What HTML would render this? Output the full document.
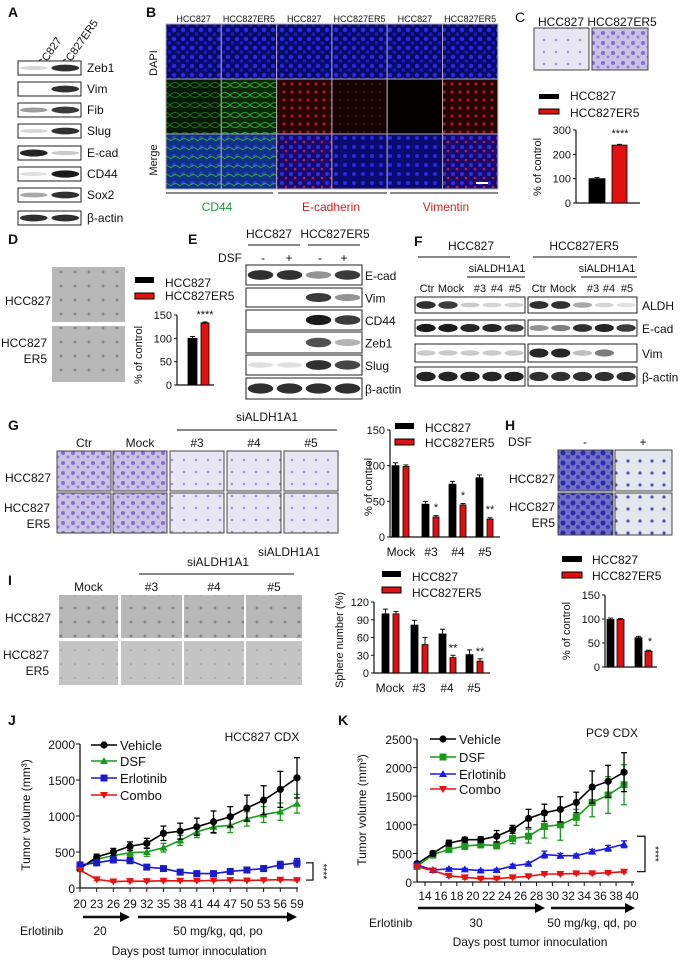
<!DOCTYPE html>
<html><head><meta charset="utf-8">
<style>
html,body{margin:0;padding:0;background:#fff;}
svg{display:block;font-family:"Liberation Sans",sans-serif;}
text{font-family:"Liberation Sans",sans-serif;}
</style></head>
<body>
<svg id="fig" width="681" height="961" viewBox="0 0 681 961" xmlns="http://www.w3.org/2000/svg">
<defs>
<pattern id="pDapi" width="9" height="9" patternUnits="userSpaceOnUse"><rect width="9" height="9" fill="#0a0a6a"/><circle cx="3" cy="3" r="2.2" fill="#2a2ae0"/><circle cx="7.5" cy="7" r="1.8" fill="#1c1cc0"/></pattern>
<pattern id="pGreen" width="10" height="10" patternUnits="userSpaceOnUse"><rect width="10" height="10" fill="#0a2a0a"/><path d="M0 5 Q5 0 10 5 Q5 10 0 5" fill="none" stroke="#2fa02f" stroke-width="1"/></pattern>
<pattern id="pGreenDim" width="10" height="10" patternUnits="userSpaceOnUse"><rect width="10" height="10" fill="#061a06"/><path d="M0 5 Q5 0 10 5 Q5 10 0 5" fill="none" stroke="#1d6a1d" stroke-width="1"/></pattern>
<pattern id="pRed" width="8" height="8" patternUnits="userSpaceOnUse"><rect width="8" height="8" fill="#250505"/><circle cx="4" cy="4" r="1.6" fill="#b01818"/></pattern>
<pattern id="pRedDim" width="8" height="8" patternUnits="userSpaceOnUse"><rect width="8" height="8" fill="#140303"/><circle cx="4" cy="4" r="1.4" fill="#4a0a0a"/></pattern>
<pattern id="pMergeG" width="9" height="9" patternUnits="userSpaceOnUse"><rect width="9" height="9" fill="#10308a"/><circle cx="3" cy="3" r="2" fill="#2a40d0"/><path d="M0 6 Q4 1 9 6" fill="none" stroke="#30a040" stroke-width="1"/></pattern>
<pattern id="pMergeR" width="9" height="9" patternUnits="userSpaceOnUse"><rect width="9" height="9" fill="#1a0a70"/><circle cx="3" cy="3" r="2" fill="#3030d8"/><circle cx="7" cy="7" r="1.3" fill="#b02050"/></pattern>
<pattern id="pMergeB" width="9" height="9" patternUnits="userSpaceOnUse"><rect width="9" height="9" fill="#0a0a70"/><circle cx="3" cy="3" r="2" fill="#2a2ae0"/></pattern>
<pattern id="pViolet" width="10" height="10" patternUnits="userSpaceOnUse"><rect width="10" height="10" fill="#c8c2e6"/><circle cx="3" cy="3" r="2" fill="#8a6ccc"/><circle cx="8" cy="7" r="1.5" fill="#9a80d4"/></pattern>
<pattern id="pVioletL" width="12" height="12" patternUnits="userSpaceOnUse"><rect width="12" height="12" fill="#e9e6f4"/><circle cx="4" cy="4" r="1.3" fill="#a494d8"/></pattern>
<pattern id="pBlue" width="10" height="10" patternUnits="userSpaceOnUse"><rect width="10" height="10" fill="#7070c8"/><circle cx="3" cy="3" r="2.5" fill="#2a2aa8"/><circle cx="8" cy="7" r="2" fill="#3a3ab8"/></pattern>
<pattern id="pBlueL" width="12" height="12" patternUnits="userSpaceOnUse"><rect width="12" height="12" fill="#e4e6ee"/><circle cx="4" cy="5" r="1.6" fill="#5050b0"/></pattern>
<pattern id="pGray" width="14" height="14" patternUnits="userSpaceOnUse"><rect width="14" height="14" fill="#b8b8b8"/><circle cx="5" cy="6" r="1.5" fill="#888"/></pattern>
<pattern id="pGrayL" width="14" height="14" patternUnits="userSpaceOnUse"><rect width="14" height="14" fill="#c4c4c4"/><circle cx="5" cy="6" r="0.8" fill="#999"/></pattern>
</defs>
<g id="root"></g>
</svg>
<script>
// ===== chart data =====
const cLabels = ["HCC827","HCC827ER5"];
const cValues = [100, 238];
const cTicks = [0,100,200,300];
const dValues = [100, 133];
const dTicks = [0,50,100,150];
const gCats = ["Mock","#3","#4","#5"];
const gBlack = [100, 46, 74, 83];
const gRed = [99, 28, 45, 25];
const gTicks = [0,50,100,150];
const hBlack = [99, 61];
const hRed = [99, 33];
const hTicks = [0,50,100,150];
const iCats = ["Mock","#3","#4","#5"];
const iBlack = [100, 81, 66, 31];
const iRed = [100, 48, 26, 20];
const iTicks = [0,30,60,90,120];
const jDays = [20,23,26,29,32,35,38,41,44,47,50,53,56,59];
const jVehicle = [270,430,500,580,620,760,790,850,920,990,1110,1220,1370,1530];
const jVehicleErr = [30,40,50,60,70,100,110,120,150,140,180,200,250,280];
const jDSF = [280,400,450,490,500,560,660,780,850,870,960,1020,1060,1170];
const jDSFErr = [30,40,50,50,60,60,70,80,90,100,100,110,120,130];
const jErl = [320,350,390,380,290,270,220,200,200,230,250,270,320,350];
const jErlErr = [40,40,40,40,30,30,30,30,30,30,30,40,50,60];
const jCombo = [250,120,90,95,95,100,100,100,105,110,105,110,115,110];
const jComboErr = [20,15,10,10,10,10,10,10,10,10,10,10,10,10];
const jTicks = [0,500,1000,1500,2000];
const kDays = [13,15,17,19,21,23,25,27,29,31,33,35,37,39];
const kVehicle = [320,500,680,740,740,800,920,1110,1210,1270,1390,1660,1760,1920];
const kVehicleErr = [30,40,50,40,50,100,70,160,150,220,180,280,280,340];
const kDSF = [270,480,570,630,650,640,760,800,970,1000,1130,1390,1520,1700];
const kDSFErr = [40,60,50,60,50,60,90,120,200,270,140,250,320,350];
const kErl = [300,210,230,220,200,210,280,320,480,460,460,530,590,660];
const kErlErr = [30,30,20,20,20,20,30,30,60,40,30,40,50,60];
const kCombo = [270,200,110,80,60,60,80,100,140,140,150,150,160,180];
const kComboErr = [20,20,30,30,20,20,20,20,20,20,20,20,20,20];
const kTicks = [0,500,1000,1500,2000,2500];
const kTickDays = [14,16,18,20,22,24,26,28,30,32,34,36,38,40];

const NS = "http://www.w3.org/2000/svg";
const root = document.getElementById('root');
function el(tag, attrs, parent){
  const e = document.createElementNS(NS, tag);
  for (const k in attrs) e.setAttribute(k, attrs[k]);
  (parent||root).appendChild(e);
  return e;
}
function txt(x,y,s,name,opts){
  opts = opts||{};
  const t = el('text',{x:x,y:y,'font-size':opts.size||11,fill:opts.fill||'#111','text-anchor':opts.anchor||'start','font-weight':opts.weight||'normal'});
  if (opts.rot) t.setAttribute('transform','rotate('+opts.rot+' '+x+' '+y+')');
  t.textContent = s;
  
  
  return t;
}
function box(x,y,w,h,fill,name,stroke){
  const r = el('rect',{x:x,y:y,width:w,height:h,fill:fill,stroke:stroke||'none','stroke-width':stroke?1:0});
  
  
  return r;
}
function line(x1,y1,x2,y2,name,w,col){
  const l = el('line',{x1:x1,y1:y1,x2:x2,y2:y2,stroke:col||'#111','stroke-width':w||1});
  
  
  return l;
}
function letter(x,y,s){ txt(x,y,s,'panel-label-'+s,{size:14,weight:'bold'}); }

function blot(x,y,w,h,lanes,intens,name){
  box(x,y,w,h,'#fff',name+'-frame','#222');
  const lw = w/lanes;
  for (let i=0;i<lanes;i++){
    const v = intens[i];
    if (v<=0.02) continue;
    const g = Math.round(235-220*v);
    const b = el('ellipse',{cx:x+lw*(i+0.5),cy:y+h/2,rx:lw*0.44,ry:Math.max(1.5,h*0.22*(0.6+v*0.6)),fill:'rgb('+g+','+g+','+g+')'});
    
    
  }
}

// ===== Panel A =====
letter(8,17,'A');
txt(38,75,'HCC827','a-header-hcc827',{rot:-55,size:11});
txt(62,75,'HCC827ER5','a-header-er5',{rot:-55,size:11});
const aRows = [['Zeb1',61,[0.1,0.85]],['Vim',82,[0,0.85]],['Fib',103,[0.35,0.8]],['Slug',124,[0.1,0.85]],['E-cad',146,[0.9,0.15]],['CD44',167,[0.05,0.95]],['Sox2',188,[0.3,0.85]],['β-actin',211,[0.85,0.85]]];
aRows.forEach(r=>{ blot(18,r[1],63,14,2,r[2],'a-blot-'+r[0]); txt(87,r[1]+11,r[0],'a-label-'+r[0],{size:12}); });

// ===== Panel B =====
letter(146,17,'B');
const bHeads = ['HCC827','HCC827ER5','HCC827','HCC827ER5','HCC827','HCC827ER5'];
const bFills = [['pDapi','pDapi','pDapi','pDapi','pDapi','pDapi'],['pGreenDim','pGreen','pRed','pRedDim','#050000','pRed'],['pMergeG','pMergeG','pMergeR','pMergeB','pMergeB','pMergeR']];
for (let c=0;c<6;c++){
  txt(166+55.3*(c+0.5),22,bHeads[c],'b-col-header',{size:9,anchor:'middle'});
  for (let r=0;r<3;r++){
    const f = bFills[r][c];
    box(166+55.3*c,24+55*r,55.3,55,f.startsWith('#')?f:'url(#'+f+')','b-image-cell','#aaa');
  }
}
txt(157,63,'DAPI','b-row-dapi',{rot:-90,anchor:'middle',size:11});
txt(157,160,'Merge','b-row-merge',{rot:-90,anchor:'middle',size:11});
box(476,182,12,2,'#fff','b-scale-bar');
line(166,193,273,193,'b-group-line');line(278,193,387,193,'b-group-line');line(390,193,498,193,'b-group-line');
txt(217,211,'CD44','b-label-cd44',{fill:'#1a9a3a',anchor:'middle',size:12});
txt(331,211,'E-cadherin','b-label-ecad',{fill:'#d02020',anchor:'middle',size:12});
txt(446,211,'Vimentin','b-label-vim',{fill:'#d02020',anchor:'middle',size:12});

function barChart(o){
  const sy = v => o.y0 - (v/o.ymax)*(o.y0-o.yTop);
  line(o.ax,o.yTop,o.ax,o.y0,o.name+'-y-axis',1.2);
  line(o.ax,o.y0,o.xEnd,o.y0,o.name+'-x-axis',1.2);
  o.ticks.forEach(t=>{ line(o.ax-3,sy(t),o.ax,sy(t),o.name+'-y-tick'); txt(o.ax-5,sy(t)+4,String(t),o.name+'-y-tick-label',{anchor:'end',size:11}); });
  o.groups.forEach((g,i)=>{
    g.forEach((b,j)=>{
      const v=b.v, h=o.y0-sy(v);
      const r = el('rect',{x:b.x,y:sy(v),width:b.w,height:h,fill:b.c,stroke:'#000','stroke-width':0.8});
      
      
      line(b.x+b.w/2,sy(v),b.x+b.w/2,sy(v+(b.e||3)),o.name+'-error-bar',1);
      line(b.x+b.w/2-2.5,sy(v+(b.e||3)),b.x+b.w/2+2.5,sy(v+(b.e||3)),o.name+'-error-cap',1);
    });
  });
  return sy;
}

// ===== Panel C =====
txt(515,22,'C','panel-label-C',{size:14});
txt(561,26,'HCC827','c-header-hcc827',{anchor:'middle',size:12});
txt(622,26,'HCC827ER5','c-header-er5',{anchor:'middle',size:12});
box(534,28,55,42,'url(#pVioletL)','c-image-hcc827','#444');
box(592,28,56,42,'url(#pViolet)','c-image-er5','#444');
box(539,94,20,5,'#000','c-legend-swatch-black');txt(570,100,'HCC827','c-legend-hcc827',{size:12});
box(539,109,20,5,'#e01010','c-legend-swatch-red','#000');txt(570,117,'HCC827ER5','c-legend-er5',{size:12});
{
  const sy = barChart({name:'c-chart',ax:576,y0:203,yTop:130,ymax:300,xEnd:640,ticks:cTicks,
    groups:[[{x:589,w:16,v:cValues[0],c:'#000',e:5},{x:612,w:15,v:cValues[1],c:'#e01010',e:3}]]});
  txt(620,sy(cValues[1])-8,'****','c-significance',{anchor:'middle',size:11});
  txt(541,167,'% of control','c-y-title',{rot:-90,anchor:'middle',size:11});
}

// ===== Panel D =====
letter(8,244,'D');
box(52,267,73,55,'url(#pGray)','d-image-hcc827');
box(52,326,73,56,'url(#pGray)','d-image-er5');
txt(5,305,'HCC827','d-row-hcc827',{size:12});
txt(47,347,'HCC827','d-row-er5-a',{size:12,anchor:'end'});
txt(47,363,'ER5','d-row-er5-b',{size:12,anchor:'end'});
box(135,277,19,6,'#000','d-legend-swatch-black');txt(165,287,'HCC827','d-legend-hcc827',{size:12});
box(135,293,19,6,'#e01010','d-legend-swatch-red','#000');txt(165,300,'HCC827ER5','d-legend-er5',{size:12});
{
  const sy = barChart({name:'d-chart',ax:177,y0:385,yTop:315,ymax:150,xEnd:214,ticks:dTicks,
    groups:[[{x:188,w:9,v:dValues[0],c:'#000',e:4},{x:201,w:8,v:dValues[1],c:'#e01010',e:2}]]});
  txt(205,sy(dValues[1])-5,'****','d-significance',{anchor:'middle',size:11});
  txt(142,355,'% of control','d-y-title',{rot:-90,anchor:'middle',size:11});
}

// ===== Panel E =====
letter(188,244,'E');
txt(269,238,'HCC827','e-header-hcc827',{anchor:'middle',size:12});
txt(335,238,'HCC827ER5','e-header-er5',{anchor:'middle',size:12});
line(248,245,300,245,'e-group-line');line(308,245,360,245,'e-group-line');
txt(230,262,'DSF','e-dsf-label',{anchor:'middle',size:12});
[['-',263],['+',289],['-',320],['+',344]].forEach(p=>txt(p[1],262,p[0],'e-dsf-sign',{anchor:'middle',size:12}));
const eRows=[['E-cad',265,20,[0.85,0.85,0.4,0.8]],['Vim',288,19,[0,0,0.8,0.4]],['CD44',310,20,[0,0,0.95,0.8]],['Zeb1',332,21,[0,0,0.7,0.25]],['Slug',355,20,[0.05,0.05,0.85,0.75]],['β-actin',378,21,[0.85,0.85,0.85,0.85]]];
eRows.forEach(r=>{ blot(246,r[1],116,r[2],4,r[3],'e-blot-'+r[0]); txt(365,r[1]+r[2]/2+5,r[0],'e-label-'+r[0],{size:12}); });

// ===== Panel F =====
letter(414,246,'F');
txt(471,250,'HCC827','f-header-hcc827',{anchor:'middle',size:12});
txt(584,250,'HCC827ER5','f-header-er5',{anchor:'middle',size:12});
line(418,257,510,257,'f-group-line');line(533,257,637,257,'f-group-line');
txt(497,272,'siALDH1A1','f-si-left',{anchor:'middle',size:11});
txt(607,272,'siALDH1A1','f-si-right',{anchor:'middle',size:11});
line(467,277,525,277,'f-si-line');line(581,277,637,277,'f-si-line');
[['Ctr',427],['Mock',451],['#3',480],['#4',497],['#5',515],['Ctr',539],['Mock',563],['#3',593],['#4',609],['#5',627]].forEach(p=>txt(p[1],292,p[0],'f-lane-label',{anchor:'middle',size:11}));
const fRows=[['ALDH',297,16,[0.85,0.8,0.15,0.1,0.1],[0.85,0.85,0.3,0.1,0.05]],['E-cad',320,16,[0.95,0.95,0.9,0.9,0.8],[0.4,0.5,0.85,0.9,0.8]],['Vim',344,18,[0.15,0.15,0.15,0.15,0.15],[0.9,0.9,0.2,0.5,0]],['β-actin',367,19,[0.9,0.9,0.9,0.9,0.9],[0.85,0.85,0.85,0.85,0.85]]];
fRows.forEach(r=>{ blot(415,r[1],110,r[2],5,r[3],'f-blot-left-'+r[0]); blot(528,r[1],109,r[2],5,r[4],'f-blot-right-'+r[0]); txt(642,r[1]+r[2]/2+5,r[0],'f-label-'+r[0],{size:12}); });

// ===== Panel G =====
letter(8,430,'G');
txt(267,421,'siALDH1A1','g-si-label',{anchor:'middle',size:12});
line(177,430,337,430,'g-si-line');
const gCols=[['Ctr',57],['Mock',113],['#3',170],['#4',227],['#5',284]];
const gFillTop=['pViolet','pViolet','pVioletL','pVioletL','pVioletL'];
const gFillBot=['pViolet','pViolet','pVioletL','pVioletL','pVioletL'];
gCols.forEach((c,i)=>{ txt(c[1]+27,447,c[0],'g-col-label',{anchor:'middle',size:12}); box(c[1],451,54,40,'url(#'+gFillTop[i]+')','g-image','#444'); box(c[1],493,54,40,'url(#'+gFillBot[i]+')','g-image','#444'); });
txt(5,482,'HCC827','g-row-hcc827',{size:12});
txt(50,512,'HCC827','g-row-er5-a',{size:12,anchor:'end'});
txt(50,528,'ER5','g-row-er5-b',{size:12,anchor:'end'});
box(395,423,19,6,'#000','g-legend-swatch-black');txt(425,432,'HCC827','g-legend-hcc827',{size:12});
box(395,439,19,6,'#e01010','g-legend-swatch-red','#000');txt(425,447,'HCC827ER5','g-legend-er5',{size:12});
{
  const bx=[392,422,449,476];
  const groups = gCats.map((c,i)=>[{x:bx[i],w:7,v:gBlack[i],c:'#000',e:4},{x:bx[i]+11,w:6,v:gRed[i],c:'#e01010',e:2}]);
  const sy = barChart({name:'g-chart',ax:390,y0:537,yTop:430,ymax:150,xEnd:500,ticks:gTicks,groups:groups});
  const sig=['','*','*','**'];
  gCats.forEach((c,i)=>{ if(sig[i]) txt(bx[i]+14,sy(gRed[i])-6,sig[i],'g-significance',{anchor:'middle',size:11}); txt(bx[i]+9,556,c,'g-x-label',{anchor:'middle',size:12}); });
  txt(320,556,'siALDH1A1','g-x-prefix',{anchor:'end',size:12});
  txt(372,487,'% of control','g-y-title',{rot:-90,anchor:'middle',size:11});
}

// ===== Panel H =====
letter(505,430,'H');
txt(520,446,'DSF','h-dsf-label',{anchor:'middle',size:12});
txt(585,446,'-','h-dsf-minus',{anchor:'middle',size:12});
txt(643,446,'+','h-dsf-plus',{anchor:'middle',size:12});
box(558,450,55,41,'url(#pBlue)','h-image','#444');box(615,450,57,41,'url(#pBlueL)','h-image','#444');
box(558,493,55,42,'url(#pBlue)','h-image','#444');box(615,493,57,42,'url(#pBlueL)','h-image','#444');
txt(555,483,'HCC827','h-row-hcc827',{size:12,anchor:'end'});
txt(555,511,'HCC827','h-row-er5-a',{size:12,anchor:'end'});
txt(555,527,'ER5','h-row-er5-b',{size:12,anchor:'end'});
box(562,556,20,6,'#000','h-legend-swatch-black');txt(592,564,'HCC827','h-legend-hcc827',{size:12});
box(562,572,20,6,'#e01010','h-legend-swatch-red','#000');txt(592,580,'HCC827ER5','h-legend-er5',{size:12});
{
  const bx=[607,635];
  const groups = hBlack.map((v,i)=>[{x:bx[i],w:7,v:hBlack[i],c:'#000',e:3},{x:bx[i]+10,w:7,v:hRed[i],c:'#e01010',e:2}]);
  const sy = barChart({name:'h-chart',ax:605,y0:667,yTop:595,ymax:150,xEnd:657,ticks:hTicks,groups:groups});
  txt(650,sy(hRed[1])-6,'*','h-significance',{anchor:'middle',size:11});
  txt(570,631,'% of control','h-y-title',{rot:-90,anchor:'middle',size:11});
}

// ===== Panel I =====
letter(8,585,'I');
txt(218,566,'siALDH1A1','i-si-label',{anchor:'middle',size:12});
line(139,574,294,574,'i-si-line');
const iCols=[['Mock',59,59],['#3',121,61],['#4',184,60],['#5',246,56]];
iCols.forEach((c,i)=>{ txt(c[1]+c[2]/2,591,c[0],'i-col-label',{anchor:'middle',size:12}); box(c[1],595,c[2],43,'url(#pGray)','i-image'); box(c[1],641,c[2],44,'url(#pGrayL)','i-image'); });
txt(5,622,'HCC827','i-row-hcc827',{size:12});
txt(49,659,'HCC827','i-row-er5-a',{size:12,anchor:'end'});
txt(49,675,'ER5','i-row-er5-b',{size:12,anchor:'end'});
box(382,571,19,6,'#000','i-legend-swatch-black');txt(412,581,'HCC827','i-legend-hcc827',{size:12});
box(382,587,19,6,'#e01010','i-legend-swatch-red','#000');txt(412,597,'HCC827ER5','i-legend-er5',{size:12});
{
  const bx=[382,411,439,466];
  const groups = iCats.map((c,i)=>[{x:bx[i],w:7,v:iBlack[i],c:'#000',e:8},{x:bx[i]+11,w:6,v:iRed[i],c:'#e01010',e:i==1?12:4}]);
  const sy = barChart({name:'i-chart',ax:374,y0:673,yTop:602,ymax:120,xEnd:490,ticks:iTicks,groups:groups});
  const sig=['','','**','**'];
  iCats.forEach((c,i)=>{ if(sig[i]) txt(bx[i]+14,sy(iRed[i])-6,sig[i],'i-significance',{anchor:'middle',size:11}); txt(bx[i]+8,692,c,'i-x-label',{anchor:'middle',size:12}); });
  txt(343,640,'Sphere number (%)','i-y-title',{rot:-90,anchor:'middle',size:11});
}

function marker(shape,x,y,col,name){
  let m;
  if (shape==='circle') m = el('circle',{cx:x,cy:y,r:3.6,fill:col});
  else if (shape==='square') m = el('rect',{x:x-3.5,y:y-3.5,width:7,height:7,fill:col});
  else if (shape==='up') m = el('polygon',{points:(x-4)+','+(y+3)+' '+(x+4)+','+(y+3)+' '+x+','+(y-4),fill:col});
  else m = el('polygon',{points:(x-4)+','+(y-3)+' '+(x+4)+','+(y-3)+' '+x+','+(y+4),fill:col});
  
  
}
function series(xs,ys,errs,sx,sy,col,shape,name){
  const pts = xs.map((d,i)=>sx(d)+','+sy(ys[i])).join(' ');
  const p = el('polyline',{points:pts,fill:'none',stroke:col,'stroke-width':1.6});
  
  
  xs.forEach((d,i)=>{
    const x=sx(d);
    line(x,sy(ys[i]-errs[i]),x,sy(ys[i]+errs[i]),name+'-error-bar',1.3,col);
    line(x-3,sy(ys[i]+errs[i]),x+3,sy(ys[i]+errs[i]),name+'-error-cap',1.3,col);
    line(x-3,sy(ys[i]-errs[i]),x+3,sy(ys[i]-errs[i]),name+'-error-cap',1.3,col);
    marker(shape,x,sy(ys[i]),col,name+'-point');
  });
}
function legendEntry(x,y,col,shape,label,name){
  line(x,y,x+26,y,name+'-swatch-line',1.6,col);
  marker(shape,x+13,y,col,name+'-swatch-marker');
  txt(x+29,y+5,label,name,{size:13});
}

// ===== Panel J =====
letter(8,725,'J');
txt(262,741,'HCC827  CDX','j-title',{anchor:'middle',size:12});
{
  const sx = d => 80 + (d-20)*(297-80)/(59-20);
  const sy = v => 888 - v*(888-744)/2000;
  line(80,744,80,888,'j-y-axis',1.3);
  line(80,888,298,888,'j-x-axis',1.3);
  jTicks.forEach(t=>{ line(76,sy(t),80,sy(t),'j-y-tick'); txt(75,sy(t)+5,String(t),'j-y-tick-label',{anchor:'end',size:12}); });
  jDays.forEach(d=>{ line(sx(d),888,sx(d),892,'j-x-tick'); txt(sx(d),908,String(d),'j-x-tick-label',{anchor:'middle',size:12}); });
  series(jDays,jDSF,jDSFErr,sx,sy,'#1a9a1a','up','j-dsf');
  series(jDays,jVehicle,jVehicleErr,sx,sy,'#000','circle','j-vehicle');
  series(jDays,jErl,jErlErr,sx,sy,'#1a1ac8','square','j-erlotinib');
  series(jDays,jCombo,jComboErr,sx,sy,'#e81010','down','j-combo');
  legendEntry(91,745,'#000','circle','Vehicle','j-legend-vehicle');
  legendEntry(91,761,'#1a9a1a','up','DSF','j-legend-dsf');
  legendEntry(91,778,'#1a1ac8','square','Erlotinib','j-legend-erlotinib');
  legendEntry(91,795,'#e81010','down','Combo','j-legend-combo');
  const b = el('polyline',{points:'306,'+sy(jErl[13])+' 313,'+sy(jErl[13])+' 313,'+sy(jCombo[13])+' 306,'+sy(jCombo[13]),fill:'none',stroke:'#000','stroke-width':1.2});
  
  
  txt(320,(sy(jErl[13])+sy(jCombo[13]))/2,'****','j-significance',{rot:90,anchor:'middle',size:10});
  txt(30,815,'Tumor volume (mm³)','j-y-title',{rot:-90,anchor:'middle',size:12});
}
function arrow(x1,x2,y,name){
  line(x1,y,x2-8,y,name,2.5);
  const p = el('polygon',{points:(x2-10)+','+(y-5)+' '+x2+','+y+' '+(x2-10)+','+(y+5),fill:'#000'});
  
  
}
arrow(83,130,917,'j-arrow-1');arrow(138,297,917,'j-arrow-2');
txt(20,935,'Erlotinib','j-erlotinib-label',{size:12});
txt(100,935,'20','j-dose-1',{anchor:'middle',size:12});
txt(218,935,'50 mg/kg, qd, po','j-dose-2',{anchor:'middle',size:12});
txt(189,955,'Days post tumor innoculation','j-x-title',{anchor:'middle',size:12});

// ===== Panel K =====
letter(338,725,'K');
txt(612,737,'PC9 CDX','k-title',{anchor:'middle',size:12});
{
  const sx = d => 425 + (d-14)*(632-425)/26;
  const sy = v => 882 - v*(882-739)/2500;
  line(sx(13),739,sx(13),882,'k-y-axis',1.3);
  line(sx(13),882,634,882,'k-x-axis',1.3);
  kTicks.forEach(t=>{ line(sx(13)-4,sy(t),sx(13),sy(t),'k-y-tick'); txt(sx(13)-5,sy(t)+5,String(t),'k-y-tick-label',{anchor:'end',size:12}); });
  kTickDays.forEach(d=>{ line(sx(d),882,sx(d),886,'k-x-tick'); txt(sx(d),900,String(d),'k-x-tick-label',{anchor:'middle',size:12}); });
  series(kDays,kDSF,kDSFErr,sx,sy,'#1a9a1a','square','k-dsf');
  series(kDays,kVehicle,kVehicleErr,sx,sy,'#000','circle','k-vehicle');
  series(kDays,kErl,kErlErr,sx,sy,'#1a1ae8','up','k-erlotinib');
  series(kDays,kCombo,kComboErr,sx,sy,'#e81010','down','k-combo');
  legendEntry(430,739,'#000','circle','Vehicle','k-legend-vehicle');
  legendEntry(430,757,'#1a9a1a','square','DSF','k-legend-dsf');
  legendEntry(430,774,'#1a1ae8','up','Erlotinib','k-legend-erlotinib');
  legendEntry(430,789,'#e81010','down','Combo','k-legend-combo');
  const b = el('polyline',{points:'637,'+(sy(kErl[13])-8)+' 645,'+(sy(kErl[13])-8)+' 645,'+sy(kCombo[13])+' 637,'+sy(kCombo[13]),fill:'none',stroke:'#000','stroke-width':1.2});
  
  
  txt(652,(sy(kErl[13])+sy(kCombo[13]))/2-4,'****','k-significance',{rot:90,anchor:'middle',size:10});
  txt(366,810,'Tumor volume (mm³)','k-y-title',{rot:-90,anchor:'middle',size:12});
}
arrow(418,545,908,'k-arrow-1');arrow(551,635,908,'k-arrow-2');
txt(369,927,'Erlotinib','k-erlotinib-label',{size:12});
txt(476,927,'30','k-dose-1',{anchor:'middle',size:12});
txt(592,927,'50 mg/kg, qd, po','k-dose-2',{anchor:'middle',size:12});
txt(530,946,'Days post tumor innoculation','k-x-title',{anchor:'middle',size:12});
</script>
</body></html>
